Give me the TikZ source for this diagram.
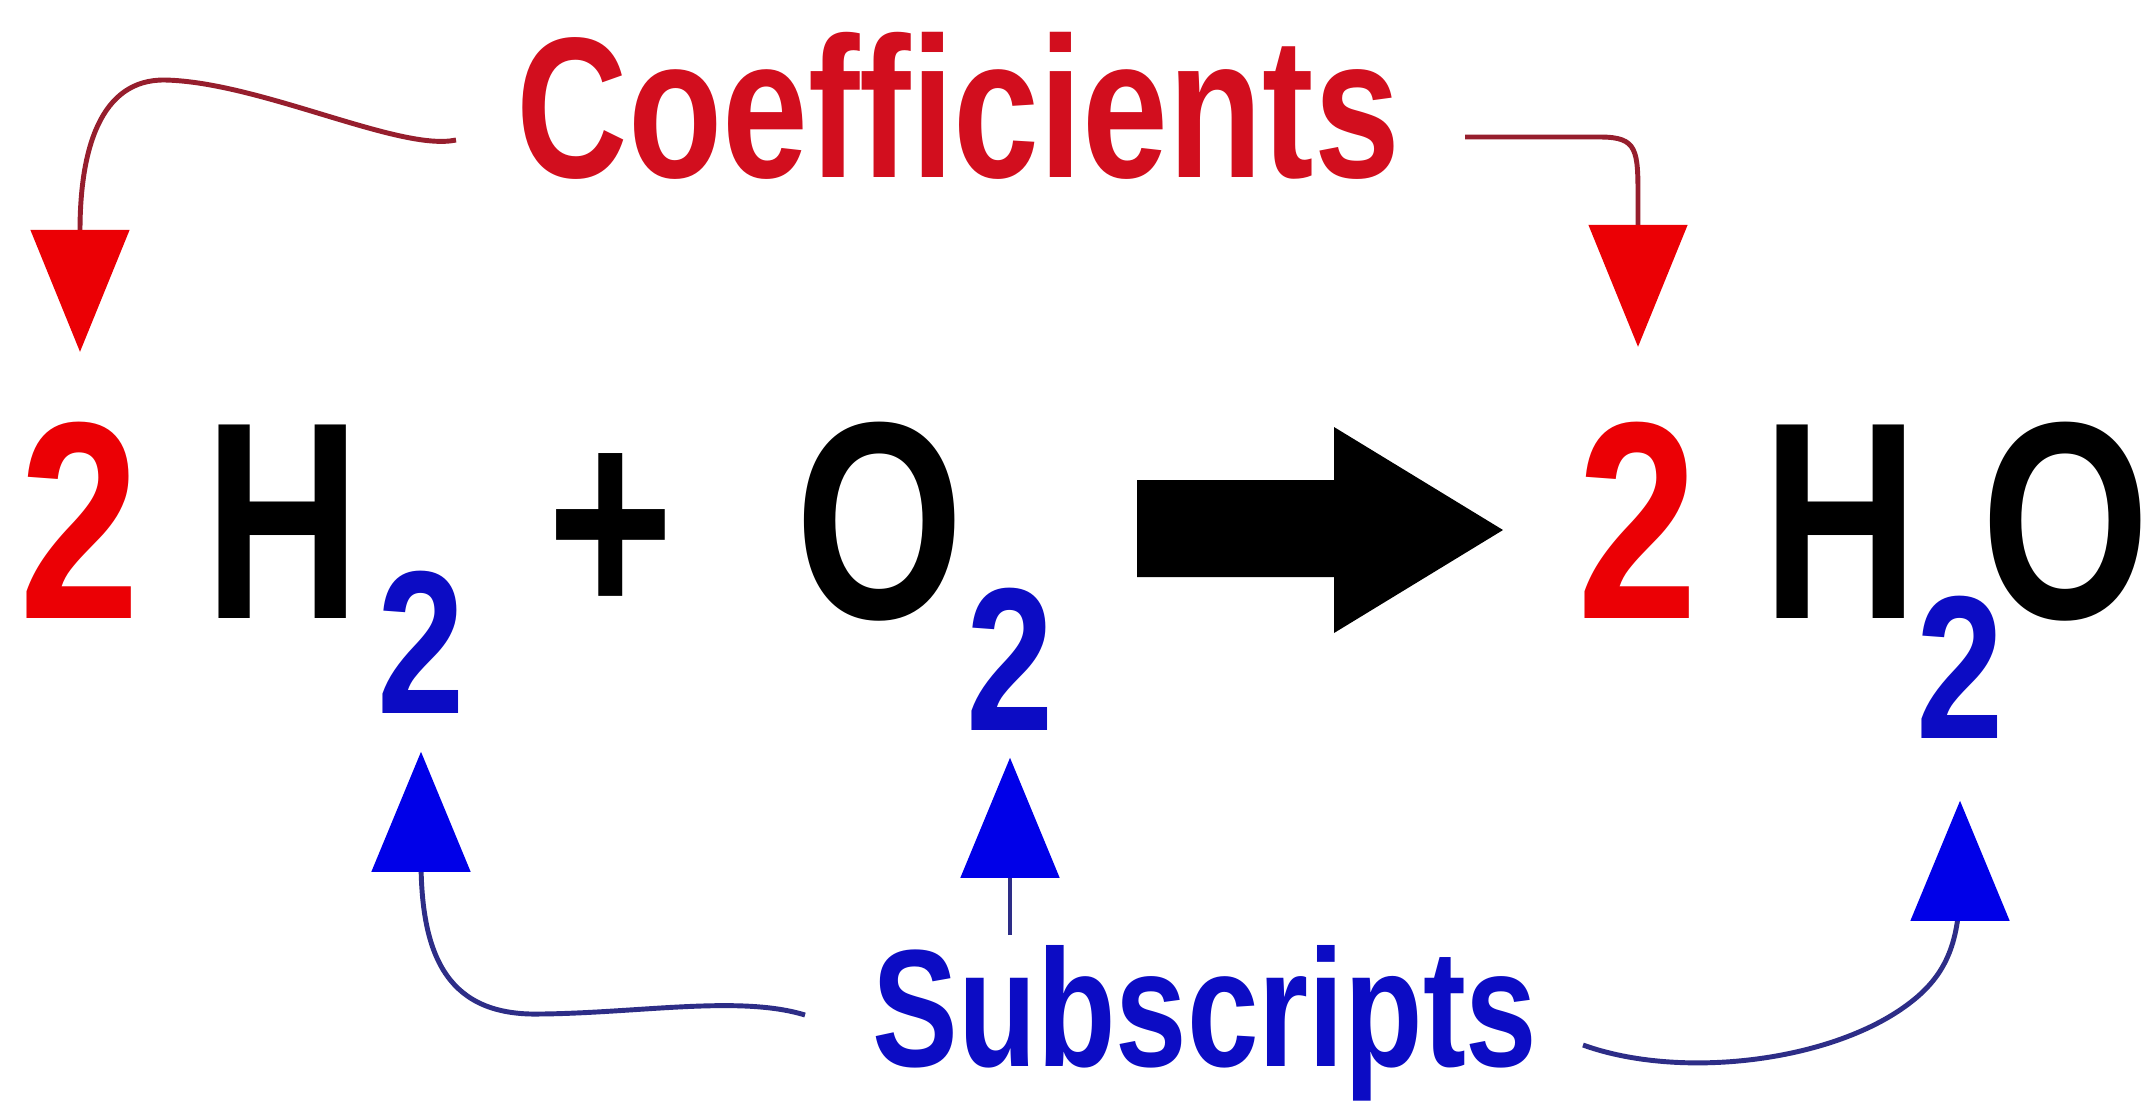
\documentclass[tikz,border=0pt]{standalone}
\usepackage{fontspec}
\setmainfont{Liberation Sans}[FakeStretch=0.77]
\usetikzlibrary{arrows.meta}
\definecolor{coefred}{RGB}{235,0,5}
\definecolor{lblred}{RGB}{210,14,30}
\definecolor{subblue}{RGB}{12,12,196}
\definecolor{tipblue}{RGB}{0,0,232}
\definecolor{redwire}{RGB}{150,30,45}
\definecolor{bluewire}{RGB}{45,45,135}
\begin{document}
\begin{tikzpicture}[x=0.01cm,y=-0.01cm,every node/.style={inner sep=0pt,anchor=base},
  big/.style={font=\fontsize{80}{80}\selectfont\bfseries},
  sub2/.style={font=\fontsize{58}{58}\selectfont\bfseries,text=subblue},
  redline/.style={line width=1.4pt,draw=redwire,-{Triangle[length=1.22cm,width=0.98cm,color=coefred]}},
  blueline/.style={line width=1.4pt,draw=bluewire,-{Triangle[length=1.2cm,width=0.98cm,color=tipblue]}}]
\useasboundingbox[fill=white] (0,0) rectangle (2149,1102);
\node[big,text=coefred] (c1) at (80,618) {2};
\node[big] (h1) at (283,618) {H};
\node[sub2] (s1) at (421,713) {2};
\node[big] (plus) at (611,618) {+};
\node[big] (o1) at (880,618) {O};
\node[sub2] (s2) at (1010,730) {2};
\fill (1137,480) -- (1334,480) -- (1334,427) -- (1503,530) -- (1334,633) -- (1334,577) -- (1137,577) -- cycle;
\node[big,text=coefred] (c2) at (1638,618) {2};
\node[big] (h2) at (1841,618) {H};
\node[sub2] (s3) at (1960,738) {2};
\node[big] (o2) at (2066,618) {O};
\node[anchor=base west,font=\fontsize{57}{57}\selectfont\bfseries,text=lblred] (coef) at (516,177) {Coefficients};
\node[anchor=base west,font=\fontsize{47.5}{47.5}\selectfont\bfseries,text=subblue] (sub) at (872,1066) {Subscripts};
\coordinate (cl) at (456,140);
\coordinate (cr) at (1465,137);
\coordinate (sl) at (805,1015);
\coordinate (sm) at (1010,935);
\coordinate (sr) at (1583,1045);
\draw[redline,shorten >=0.69cm] (cl) .. controls (400,152) and (260,82) .. (165,80) .. controls (100,79) and (80,150) .. (c1.north);
\draw[redline,shorten >=0.74cm] (cr) -- (1600,137) .. controls (1638,137) and (1638,150) .. (1638,200) -- (c2.north);
\draw[blueline,shorten >=0.38cm] (sl) .. controls (740,995) and (640,1013) .. (540,1014) .. controls (450,1016) and (421,960) .. (421,860) -- (s1.south);
\draw[blueline,shorten >=0.27cm] (sm) -- (s2.south);
\draw[blueline,shorten >=0.62cm] (sr) .. controls (1680,1080) and (1830,1062) .. (1907,1005) .. controls (1948,975) and (1960,940) .. (1960,880) -- (s3.south);
\end{tikzpicture}
\end{document}
